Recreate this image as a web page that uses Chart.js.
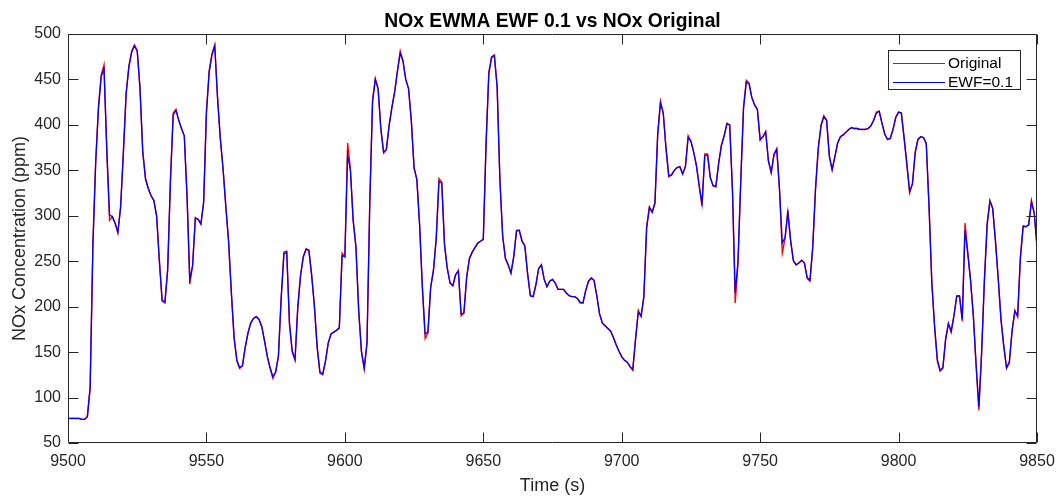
<!DOCTYPE html>
<html>
<head>
<meta charset="utf-8">
<script src="https://cdn.jsdelivr.net/npm/chart.js@4/dist/chart.umd.min.js"></script>
<style>
  html, body { margin: 0; padding: 0; background: #fff; }
  canvas { display: block; }
</style>
</head>
<body>
<canvas id="chart" width="1058" height="500"></canvas>
<script>
// Time axis: one sample per second, 9500 .. 9850
const START_TIME = 9500;
const X_TICKS = [9500, 9550, 9600, 9650, 9700, 9750, 9800, 9850];
const Y_TICKS = [50, 100, 150, 200, 250, 300, 350, 400, 450, 500];

const SERIES_LABELS = ["Original", "EWF=0.1"];

// NOx concentration (ppm)
const original = [
  77, 77, 77, 77, 77, 76, 76, 79, 110, 270,
  360, 420, 455, 466, 372, 295, 299, 292, 281, 310,
  370, 435, 465, 481, 488, 482, 440, 370, 340, 330,
  322, 317, 300, 250, 206, 204, 240, 340, 413, 417,
  405, 396, 388, 320, 225, 245, 298, 296, 291, 315,
  415, 460, 478, 488, 430, 385, 352, 310, 272, 215,
  165, 140, 132, 135, 155, 171, 182, 187, 189, 186,
  178, 162, 145, 132, 121, 128, 145, 210, 260, 261,
  180, 150, 141, 200, 235, 255, 264, 262, 235, 200,
  155, 127, 125, 140, 160, 170, 172, 174, 176, 259,
  255, 380, 352, 295, 266, 195, 150, 131, 160, 315,
  427, 451, 440, 395, 369, 373, 400, 420, 437, 460,
  481, 470, 450, 440, 405, 352, 340, 290, 220, 165,
  171, 222, 240, 275, 341, 337, 268, 242, 226, 223,
  235, 240, 190, 193, 233, 253, 260, 265, 270, 272,
  274, 380, 458, 475, 477, 442, 339, 277, 253, 246,
  237, 255, 284, 284, 272, 267, 236, 212, 211, 224,
  242, 246, 230, 222, 228, 230, 226, 219, 219, 219,
  215, 212, 211, 211, 209, 204, 204, 218, 228, 232,
  229, 212, 192, 182, 179, 176, 173, 166, 158, 151,
  145, 141, 139, 134, 130, 165, 196, 189, 211, 288,
  310, 304, 314, 391, 426, 413, 374, 343, 345, 350,
  353, 354, 346, 354, 388, 382, 370, 355, 332, 311,
  368, 368, 342, 333, 332, 358, 378, 388, 402, 400,
  328, 204, 248, 339, 420, 449, 446, 430, 422, 417,
  383, 387, 393, 360, 347, 368, 374, 328, 259, 275,
  306, 273, 250, 246, 248, 251, 248, 231, 228, 266,
  330, 375, 400, 410, 405, 365, 350, 365, 380, 387,
  389, 392, 395, 397, 396, 396, 395, 395, 395, 396,
  399, 405, 414, 415, 402, 390, 384, 385, 395, 409,
  414, 413, 385, 356, 325, 335, 370, 384, 387, 386,
  380, 310, 226, 178, 140, 129, 132, 165, 182, 172,
  190, 212, 212, 184, 292, 260, 229, 190, 135, 86,
  150, 230, 292, 317, 308, 272, 230, 185, 156, 132,
  138, 174, 196, 189, 255, 289, 288, 290, 317, 303,
  266
];

// EWMA smoothed (EWF = 0.1): sits on top of the original, slightly softer at spikes
const ewf = [
  77, 77, 77, 77, 77, 76, 76, 79, 112, 268,
  358, 418, 453, 462, 375, 301, 299, 292, 282, 309,
  369, 434, 464, 480, 487, 481, 441, 371, 341, 330,
  322, 317, 300, 251, 207, 205, 241, 338, 411, 416,
  405, 396, 388, 322, 230, 245, 297, 296, 291, 315,
  413, 458, 477, 487, 431, 386, 352, 311, 272, 216,
  166, 141, 133, 135, 155, 171, 182, 187, 189, 186,
  178, 162, 145, 133, 123, 128, 146, 209, 258, 260,
  182, 151, 142, 199, 234, 255, 263, 262, 235, 201,
  156, 128, 126, 140, 160, 170, 172, 174, 177, 256,
  255, 367, 350, 295, 266, 196, 151, 133, 160, 313,
  425, 450, 440, 396, 370, 373, 399, 419, 436, 459,
  479, 470, 450, 440, 405, 353, 340, 290, 222, 170,
  172, 221, 240, 275, 338, 336, 268, 242, 226, 223,
  235, 239, 192, 193, 232, 253, 260, 265, 270, 272,
  274, 378, 456, 474, 476, 442, 340, 278, 253, 246,
  237, 255, 283, 284, 272, 267, 237, 212, 211, 224,
  242, 246, 230, 222, 228, 230, 226, 219, 219, 219,
  215, 212, 211, 211, 209, 205, 204, 218, 228, 231,
  229, 212, 192, 182, 179, 176, 173, 166, 158, 151,
  145, 141, 139, 134, 131, 164, 194, 190, 211, 286,
  309, 304, 314, 389, 424, 413, 374, 344, 345, 350,
  353, 354, 346, 354, 386, 382, 370, 355, 333, 313,
  366, 367, 342, 333, 332, 357, 377, 388, 401, 400,
  328, 215, 250, 338, 418, 447, 445, 430, 422, 417,
  384, 387, 392, 360, 348, 367, 373, 329, 270, 276,
  304, 273, 251, 246, 248, 251, 248, 232, 229, 265,
  329, 374, 399, 409, 405, 366, 351, 365, 380, 387,
  389, 392, 395, 397, 396, 396, 395, 395, 395, 396,
  399, 405, 413, 415, 402, 390, 384, 385, 395, 408,
  414, 413, 386, 357, 327, 335, 369, 384, 387, 386,
  379, 311, 228, 179, 142, 130, 133, 164, 181, 173,
  190, 211, 212, 186, 284, 258, 229, 190, 137, 90,
  149, 228, 290, 316, 308, 272, 231, 186, 157, 133,
  139, 173, 195, 190, 253, 288, 288, 290, 315, 303,
  266
];

const AXIS_COLOR = '#262626';
const RED = '#ff0000';
const BLUE = '#0000ff';
const FONT = '"Liberation Sans", Arial, Helvetica, sans-serif';
const TICK_LEN = 10;

const toPoints = vals => vals.map((v, i) => ({ x: START_TIME + i, y: v }));

// Draws the MATLAB-style axes box, inward ticks, title and legend box
const matlabAxes = {
  id: 'matlabAxes',
  afterDraw(chart) {
    const { ctx, chartArea: a, scales } = chart;
    const L = Math.round(a.left) + 0.5, R = Math.round(a.right) - 0.5;
    const T = Math.round(a.top) + 0.5, B = Math.round(a.bottom) - 0.5;
    ctx.save();
    ctx.strokeStyle = AXIS_COLOR;
    ctx.lineWidth = 1;
    ctx.beginPath();
    ctx.rect(L, T, R - L, B - T);
    X_TICKS.forEach(v => {
      const px = Math.round(scales.x.getPixelForValue(v)) + 0.5;
      ctx.moveTo(px, B); ctx.lineTo(px, B - TICK_LEN);
      ctx.moveTo(px, T); ctx.lineTo(px, T + TICK_LEN);
    });
    Y_TICKS.forEach(v => {
      const py = Math.round(scales.y.getPixelForValue(v)) + 0.5;
      ctx.moveTo(L, py); ctx.lineTo(L + TICK_LEN, py);
      ctx.moveTo(R, py); ctx.lineTo(R - TICK_LEN, py);
    });
    ctx.stroke();

    // title
    ctx.fillStyle = '#000';
    ctx.font = 'bold 19.3px ' + FONT;
    ctx.textAlign = 'center';
    ctx.textBaseline = 'alphabetic';
    ctx.fillText('NOx EWMA EWF 0.1 vs NOx Original', (a.left + a.right) / 2, 27);

    // legend
    const bx = 888.5, by = 50.5, bw = 132, bh = 39;
    ctx.fillStyle = '#fff';
    ctx.fillRect(bx, by, bw, bh);
    ctx.strokeStyle = AXIS_COLOR;
    ctx.strokeRect(bx, by, bw, bh);
    ctx.font = '15.5px ' + FONT;
    ctx.textAlign = 'left';
    ctx.textBaseline = 'middle';
    const rows = [63, 82];
    const colors = [RED, BLUE];
    SERIES_LABELS.forEach((lbl, i) => {
      ctx.strokeStyle = colors[i];
      ctx.lineWidth = 1;
      ctx.beginPath();
      ctx.moveTo(893, rows[i] + 0.5);
      ctx.lineTo(945, rows[i] + 0.5);
      ctx.stroke();
      ctx.fillStyle = '#000';
      ctx.fillText(lbl, 948, rows[i] + 1);
    });
    ctx.restore();
  }
};

new Chart(document.getElementById('chart'), {
  type: 'line',
  data: {
    datasets: [
      {
        label: SERIES_LABELS[0],
        data: toPoints(original),
        borderColor: RED,
        borderWidth: 1.4,
        pointRadius: 0,
        tension: 0,
        order: 2
      },
      {
        label: SERIES_LABELS[1],
        data: toPoints(ewf),
        borderColor: BLUE,
        borderWidth: 1.3,
        pointRadius: 0,
        tension: 0,
        order: 1
      }
    ]
  },
  options: {
    responsive: false,
    animation: false,
    devicePixelRatio: 1,
    layout: { padding: { top: 34, right: 21, left: 0, bottom: 0 } },
    plugins: {
      legend: { display: false },
      title: { display: false },
      tooltip: { enabled: false }
    },
    scales: {
      x: {
        type: 'linear',
        min: 9500,
        max: 9850,
        afterBuildTicks: s => { s.ticks = X_TICKS.map(v => ({ value: v })); },
        afterFit: s => { s.height = 57; s.paddingLeft = 0; s.paddingRight = 0; },
        grid: { display: false, drawTicks: false },
        border: { display: false },
        ticks: {
          color: AXIS_COLOR,
          font: { family: FONT, size: 16 },
          padding: 9,
          maxRotation: 0,
          autoSkip: false,
          callback: v => String(v)
        },
        title: {
          display: true,
          text: 'Time (s)',
          color: AXIS_COLOR,
          font: { family: FONT, size: 18 },
          padding: { top: 0, bottom: 3 }
        }
      },
      y: {
        min: 50,
        max: 500,
        afterBuildTicks: s => { s.ticks = Y_TICKS.map(v => ({ value: v })); },
        afterFit: s => { s.width = 68; s.paddingTop = 0; s.paddingBottom = 0; },
        grid: { display: false, drawTicks: false },
        border: { display: false },
        ticks: {
          color: AXIS_COLOR,
          font: { family: FONT, size: 16 },
          padding: 7,
          callback: v => String(v)
        },
        title: {
          display: true,
          text: 'NOx Concentration (ppm)',
          color: AXIS_COLOR,
          font: { family: FONT, size: 18 },
          padding: { top: 9, bottom: 0 }
        }
      }
    }
  },
  plugins: [matlabAxes]
});
</script>
</body>
</html>
